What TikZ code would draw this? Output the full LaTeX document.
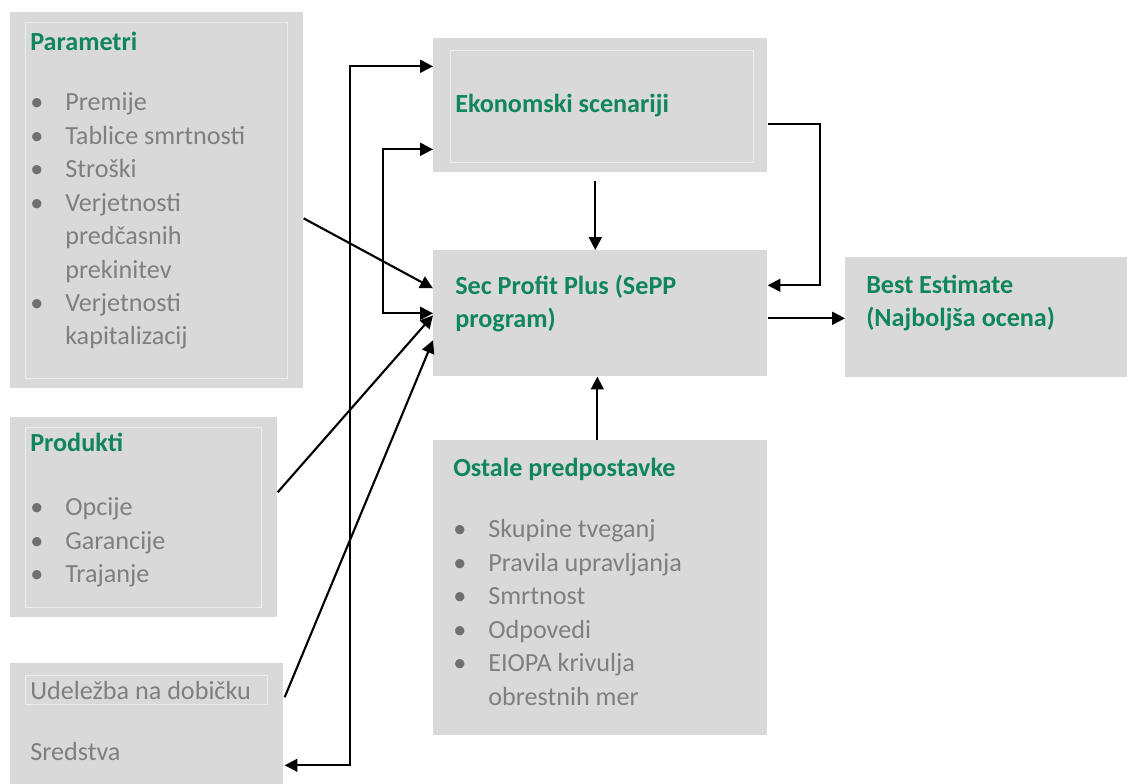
\documentclass[tikz,border=0pt]{standalone}
\usepackage{fontspec}
\setmainfont{Carlito}
\usetikzlibrary{arrows.meta,calc}
\definecolor{BoxClr}{RGB}{217,217,217}
\definecolor{FrameClr}{RGB}{236,236,236}
\definecolor{TitleClr}{RGB}{16,134,92}
\definecolor{TextClr}{RGB}{127,127,127}
\definecolor{DotClr}{RGB}{112,112,112}

\newcommand{\bul}{\makebox[0.875cm][l]{\textcolor{DotClr}{\textbullet}}}
\newcommand{\ind}{\hspace*{0.875cm}}
\newcommand{\ttl}[1]{\textcolor{TitleClr}{\textbf{#1}}}

\begin{document}
\begin{tikzpicture}[x=0.025cm,y=-0.025cm,
  box/.style={fill=BoxClr,draw=none,anchor=north west,inner sep=0pt},
  frame/.style={draw=FrameClr,line width=0.7pt},
  txt/.style={anchor=north west,inner sep=0pt,align=left,text=TextClr,
    font=\fontsize{18.6}{23.8}\selectfont,execute at begin node=\strut},
  conn/.style={line width=1.5pt,-{Triangle[length=0.32cm,width=0.32cm]}},
  both/.style={line width=1.5pt,{Triangle[length=0.32cm,width=0.32cm]}-{Triangle[length=0.32cm,width=0.32cm]}}]
\useasboundingbox (0,0) rectangle (1127,784);

% Input boxes on the left.
\node[box,minimum width=7.325cm,minimum height=9.4cm] (param) at (10,12) {};
\node[box,minimum width=6.675cm,minimum height=5cm] (prod) at (10,417) {};
\node[box,minimum width=6.825cm,minimum height=3.025cm] (udel) at (10,663) {};

% Boxes in the middle and on the right.
\node[box,minimum width=8.35cm,minimum height=3.35cm] (ekon) at (433,38) {};
\node[box,minimum width=8.35cm,minimum height=3.15cm] (sepp) at (433,250) {};
\node[box,minimum width=8.35cm,minimum height=7.375cm] (ostale) at (433,440) {};
\node[box,minimum width=7.05cm,minimum height=3cm] (best) at (845,257) {};

% Light inner frames.
\draw[frame] ([shift={(15,10)}]param.north west) rectangle ([shift={(-16,-10)}]param.south east);
\draw[frame] ([shift={(15,10)}]prod.north west) rectangle ([shift={(-16,-10)}]prod.south east);
\draw[frame] ([shift={(15,12)}]udel.north west) rectangle ([shift={(257,41)}]udel.north west);
\draw[frame] ([shift={(17,12)}]ekon.north west) rectangle ([shift={(-14,-10)}]ekon.south east);

% Texts.
\node[txt] (param-txt) at ([shift={(20,19.6)}]param.north west)
  {\ttl{Parametri}\\[0.675cm]
   \bul Premije\\
   \bul Tablice smrtnosti\\
   \bul Stroški\\
   \bul Verjetnosti\\
   \ind predčasnih\\
   \ind prekinitev\\
   \bul Verjetnosti\\
   \ind kapitalizacij};
\node[txt] (prod-txt) at ([shift={(20,15.6)}]prod.north west)
  {\ttl{Produkti}\\[0.78cm]
   \bul Opcije\\
   \bul Garancije\\
   \bul Trajanje};
\node[txt] (udel-txt) at ([shift={(20,17.6)}]udel.north west)
  {Udeležba na dobičku\\[0.7cm]
   Sredstva};
\node[txt] (ekon-txt) at ([shift={(22,51)}]ekon.north west)
  {\ttl{Ekonomski scenariji}};
\node[txt] (sepp-txt) at ([shift={(22,24.6)}]sepp.north west)
  {\ttl{Sec Profit Plus (SePP}\\
   \ttl{program)}};
\node[txt] (best-txt) at ([shift={(21,17.6)}]best.north west)
  {\ttl{Best Estimate}\\
   \ttl{(Najboljša ocena)}};
\node[txt] (ostale-txt) at ([shift={(20,17.6)}]ostale.north west)
  {\ttl{Ostale predpostavke}\\[0.7cm]
   \bul Skupine tveganj\\
   \bul Pravila upravljanja\\
   \bul Smrtnost\\
   \bul Odpovedi\\
   \bul EIOPA krivulja\\
   \ind obrestnih mer};

% Connectors.
\draw[conn] ([shift={(-5,8)}]ekon.south) -- ([shift={(-5,0)}]sepp.north);
\draw[conn] ([shift={(0,19)}]ekon.east) -- ++(52,0) |- ([shift={(0,-28)}]sepp.east);
\draw[conn] ([shift={(0,5)}]sepp.east) -- ([shift={(0,5)}]sepp.east -| best.west);
\draw[conn] ([shift={(-3,0)}]ostale.north) -- ([shift={(-3,0)}]sepp.south);
\draw[conn] ([shift={(0,18)}]param.east) -- ([shift={(0,-25)}]sepp.west);
\draw[conn] ([shift={(0,-25)}]prod.east) -- ([shift={(0,2)}]sepp.west);
\draw[conn] ([shift={(1,-26.5)}]udel.east) -- ([shift={(0,27)}]sepp.west);
\draw[both] ([shift={(0,-39)}]ekon.west) -- ++(-83,0) |- ([shift={(1,41.5)}]udel.east);
\draw[both] ([shift={(0,44)}]ekon.west) -- ++(-50,0) |- (sepp.west);

\end{tikzpicture}
\end{document}
